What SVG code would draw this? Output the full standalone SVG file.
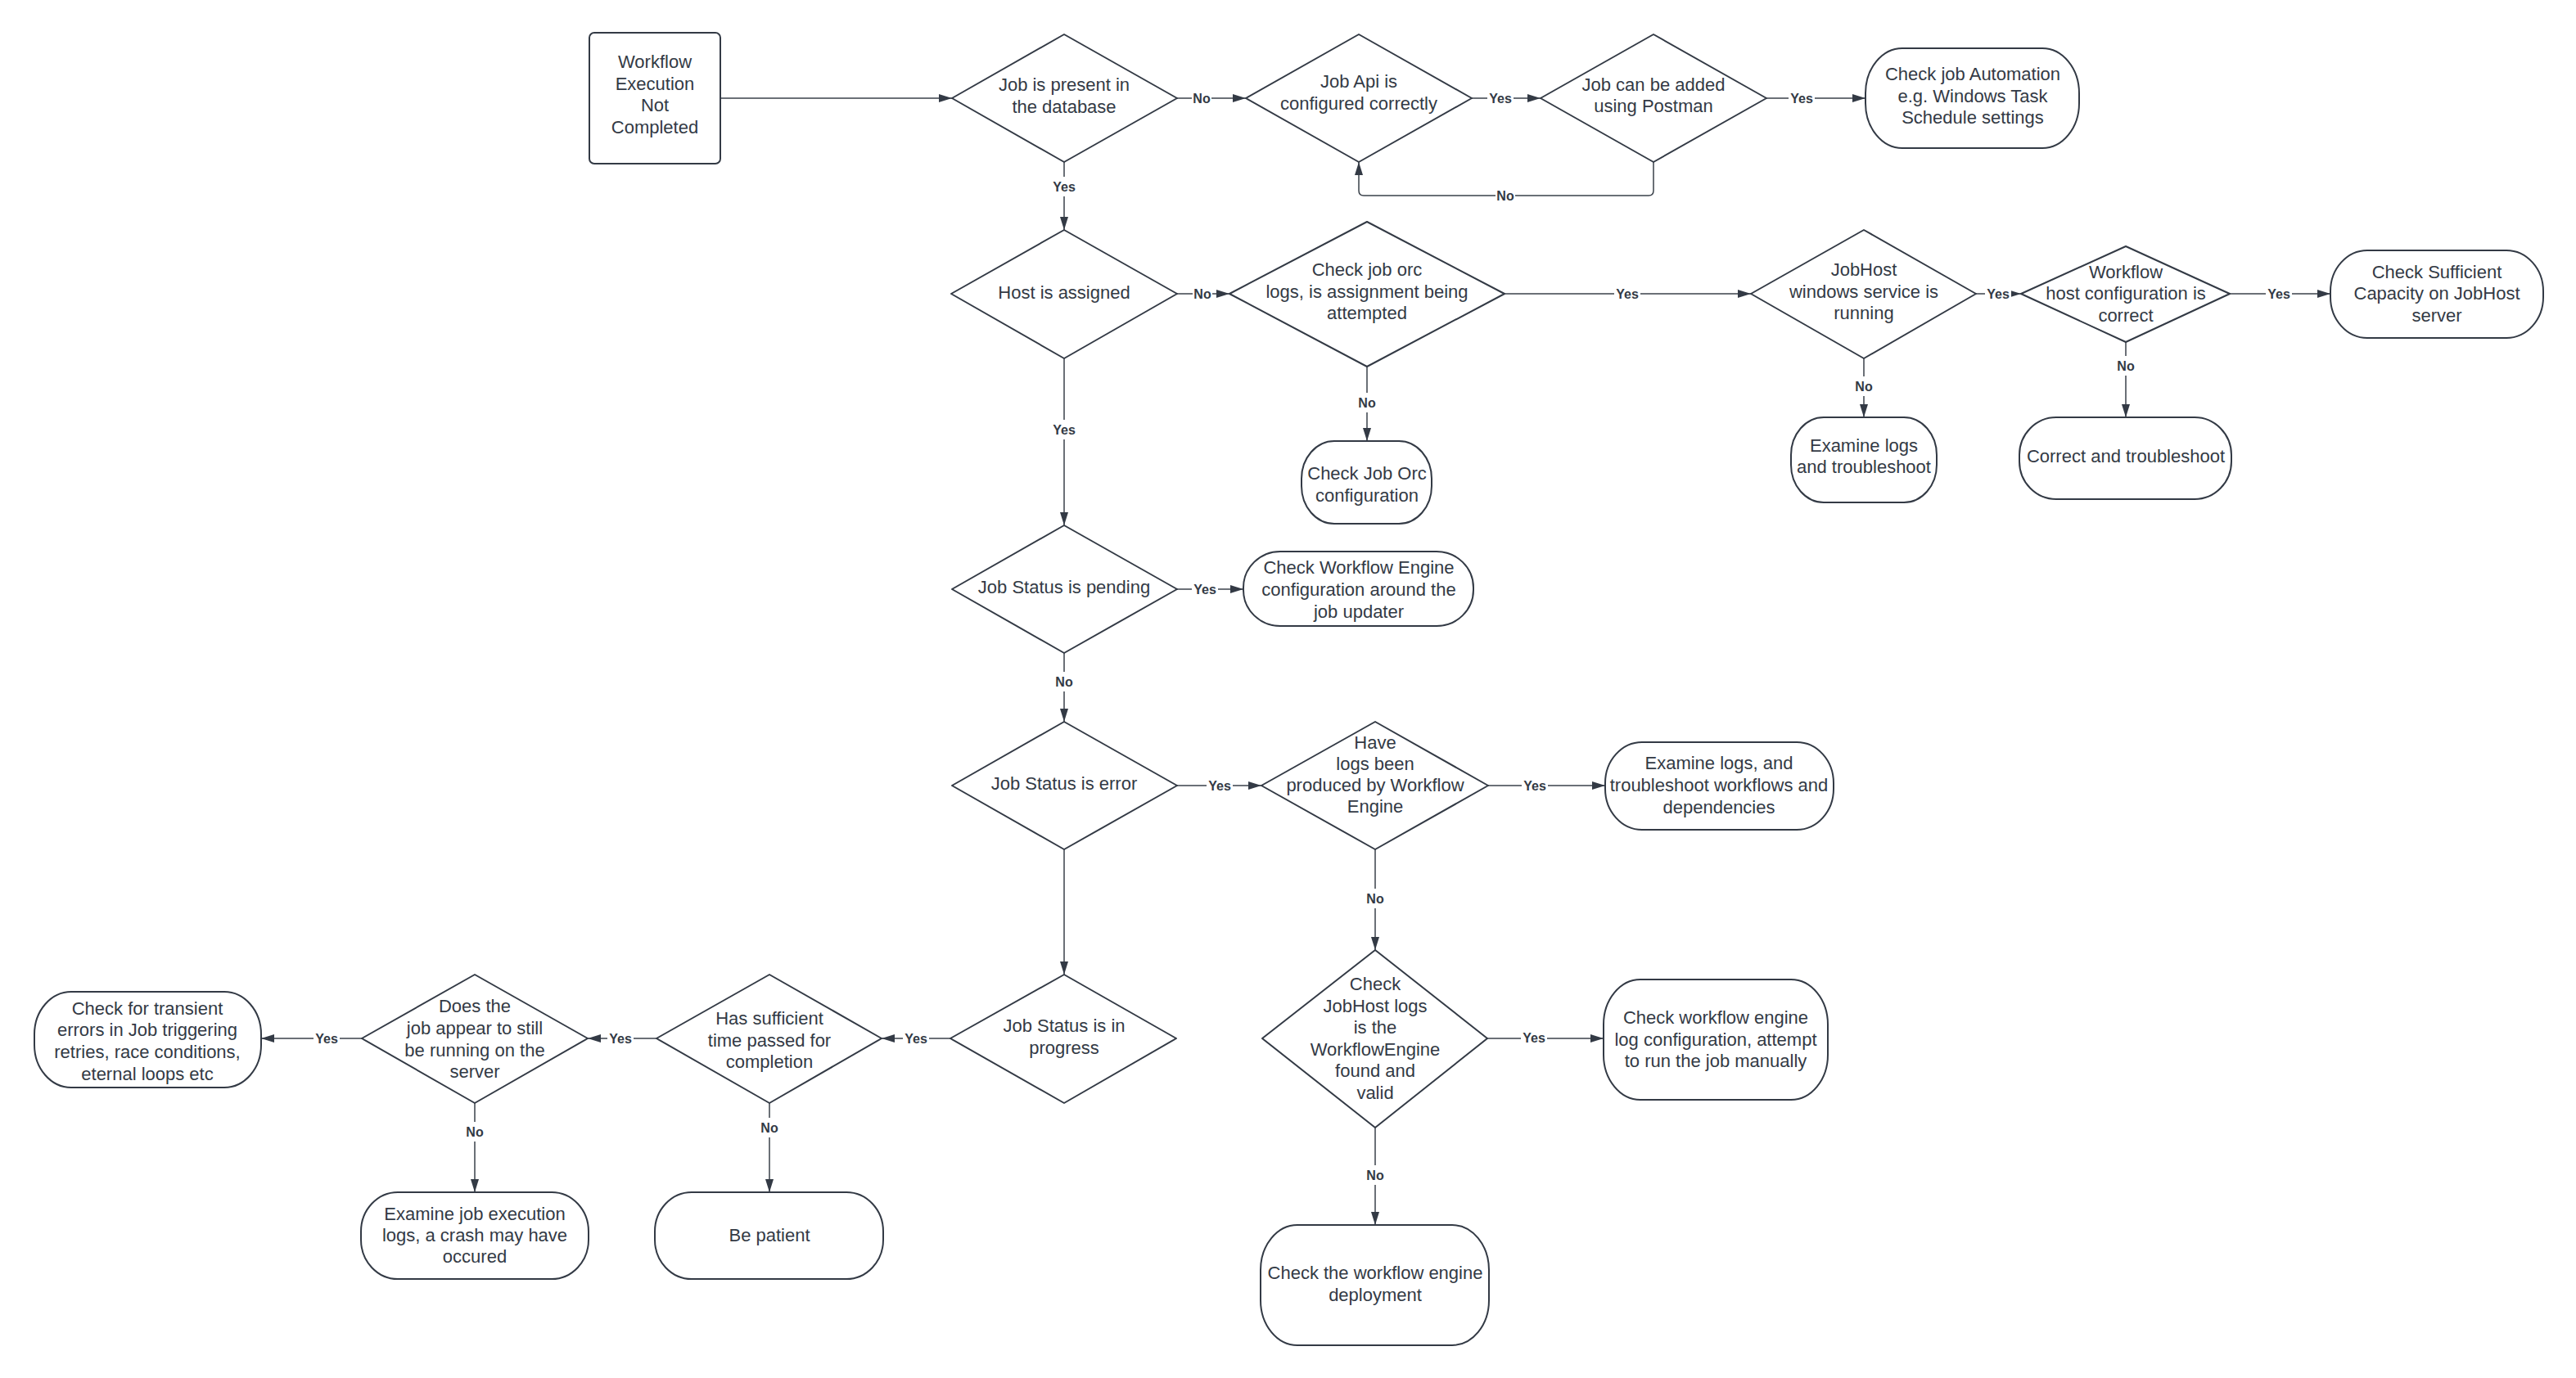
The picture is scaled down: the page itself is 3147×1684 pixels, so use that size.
<svg xmlns="http://www.w3.org/2000/svg" width="3147" height="1684" viewBox="0 0 3147 1684">
<style>
.shape{fill:#ffffff;stroke:#333a45;stroke-width:2;stroke-linejoin:round}
.conn{fill:none;stroke:#3a414a;stroke-width:1.5}
.t{font-family:"Liberation Sans",Arial,sans-serif;font-size:22px;fill:#333a45;text-anchor:middle}
.lbl{font-family:"Liberation Sans",Arial,sans-serif;font-size:16px;font-weight:bold;fill:#333a45;text-anchor:middle}
.bg{fill:#ffffff;stroke:none}
</style>
<defs>
<marker id="arr" markerUnits="userSpaceOnUse" markerWidth="16" markerHeight="10" refX="16" refY="5" orient="auto">
<path d="M0,0 L16,5 L0,10 z" fill="#333a45"/>
</marker>
</defs>
<rect width="3147" height="1684" fill="#ffffff"/>

<g id="connectors">
<path class="conn" d="M880,120 H1163" marker-end="url(#arr)"/>
<path class="conn" d="M1438,120 H1522" marker-end="url(#arr)"/>
<path class="conn" d="M1798,120 H1882" marker-end="url(#arr)"/>
<path class="conn" d="M2158,120 H2279" marker-end="url(#arr)"/>
<path class="conn" d="M2020,198 V233 Q2020,239 2014,239 H1666 Q1660,239 1660,233 V198" marker-end="url(#arr)"/>
<path class="conn" d="M1300,198 V281" marker-end="url(#arr)"/>
<path class="conn" d="M1438,359 H1502" marker-end="url(#arr)"/>
<path class="conn" d="M1838,359 H2139" marker-end="url(#arr)"/>
<path class="conn" d="M1670,448 V539" marker-end="url(#arr)"/>
<path class="conn" d="M2414,359 H2469" marker-end="url(#arr)"/>
<path class="conn" d="M2724,359 H2847" marker-end="url(#arr)"/>
<path class="conn" d="M2277,438 V510" marker-end="url(#arr)"/>
<path class="conn" d="M2597,418 V510" marker-end="url(#arr)"/>
<path class="conn" d="M1300,438 V642" marker-end="url(#arr)"/>
<path class="conn" d="M1438,720 H1519" marker-end="url(#arr)"/>
<path class="conn" d="M1300,798 V882" marker-end="url(#arr)"/>
<path class="conn" d="M1438,960 H1541" marker-end="url(#arr)"/>
<path class="conn" d="M1818,960 H1961" marker-end="url(#arr)"/>
<path class="conn" d="M1300,1038 V1191" marker-end="url(#arr)"/>
<path class="conn" d="M1680,1038 V1161" marker-end="url(#arr)"/>
<path class="conn" d="M1817,1269 H1959" marker-end="url(#arr)"/>
<path class="conn" d="M1680,1378 V1497" marker-end="url(#arr)"/>
<path class="conn" d="M1161,1269 H1077" marker-end="url(#arr)"/>
<path class="conn" d="M802,1269 H718" marker-end="url(#arr)"/>
<path class="conn" d="M442,1269 H319" marker-end="url(#arr)"/>
<path class="conn" d="M580,1348 V1457" marker-end="url(#arr)"/>
<path class="conn" d="M940,1348 V1457" marker-end="url(#arr)"/>

<rect class="bg" x="1456" y="110" width="24" height="20"/><text class="lbl" x="1468" y="126">No</text>
<rect class="bg" x="1817" y="110" width="32" height="20"/><text class="lbl" x="1833" y="126">Yes</text>
<rect class="bg" x="2185" y="110" width="32" height="20"/><text class="lbl" x="2201" y="126">Yes</text>
<rect class="bg" x="1827" y="229" width="24" height="20"/><text class="lbl" x="1839" y="245">No</text>
<rect class="bg" x="1284" y="216" width="32" height="24"/><text class="lbl" x="1300" y="234">Yes</text>
<rect class="bg" x="1457" y="349" width="24" height="20"/><text class="lbl" x="1469" y="365">No</text>
<rect class="bg" x="1972" y="349" width="32" height="20"/><text class="lbl" x="1988" y="365">Yes</text>
<rect class="bg" x="1658" y="480" width="24" height="24"/><text class="lbl" x="1670" y="498">No</text>
<rect class="bg" x="2425" y="349" width="32" height="20"/><text class="lbl" x="2441" y="365">Yes</text>
<rect class="bg" x="2768" y="349" width="32" height="20"/><text class="lbl" x="2784" y="365">Yes</text>
<rect class="bg" x="2265" y="460" width="24" height="24"/><text class="lbl" x="2277" y="478">No</text>
<rect class="bg" x="2585" y="435" width="24" height="24"/><text class="lbl" x="2597" y="453">No</text>
<rect class="bg" x="1284" y="513" width="32" height="24"/><text class="lbl" x="1300" y="531">Yes</text>
<rect class="bg" x="1456" y="710" width="32" height="20"/><text class="lbl" x="1472" y="726">Yes</text>
<rect class="bg" x="1288" y="821" width="24" height="24"/><text class="lbl" x="1300" y="839">No</text>
<rect class="bg" x="1474" y="950" width="32" height="20"/><text class="lbl" x="1490" y="966">Yes</text>
<rect class="bg" x="1859" y="950" width="32" height="20"/><text class="lbl" x="1875" y="966">Yes</text>
<rect class="bg" x="1668" y="1086" width="24" height="24"/><text class="lbl" x="1680" y="1104">No</text>
<rect class="bg" x="1858" y="1258" width="32" height="20"/><text class="lbl" x="1874" y="1274">Yes</text>
<rect class="bg" x="1668" y="1424" width="24" height="24"/><text class="lbl" x="1680" y="1442">No</text>
<rect class="bg" x="1103" y="1259" width="32" height="20"/><text class="lbl" x="1119" y="1275">Yes</text>
<rect class="bg" x="742" y="1259" width="32" height="20"/><text class="lbl" x="758" y="1275">Yes</text>
<rect class="bg" x="383" y="1259" width="32" height="20"/><text class="lbl" x="399" y="1275">Yes</text>
<rect class="bg" x="568" y="1371" width="24" height="24"/><text class="lbl" x="580" y="1389">No</text>
<rect class="bg" x="928" y="1366" width="24" height="24"/><text class="lbl" x="940" y="1384">No</text>
</g>

<g id="start">
<rect class="shape" x="720" y="40" width="160" height="160" rx="6"/>
<text class="t" x="800" y="83">Workflow</text>
<text class="t" x="800" y="110">Execution</text>
<text class="t" x="800" y="136">Not</text>
<text class="t" x="800" y="163">Completed</text>
</g>

<g id="d1">
<polygon class="shape" points="1300,42 1438,120 1300,198 1163,120"/>
<text class="t" x="1300" y="111">Job is present in</text>
<text class="t" x="1300" y="138">the database</text>
</g>

<g id="d2">
<polygon class="shape" points="1660,42 1798,120 1660,198 1522,120"/>
<text class="t" x="1660" y="107">Job Api is</text>
<text class="t" x="1660" y="134">configured correctly</text>
</g>

<g id="d3">
<polygon class="shape" points="2020,42 2158,120 2020,198 1882,120"/>
<text class="t" x="2020" y="111">Job can be added</text>
<text class="t" x="2020" y="137">using Postman</text>
</g>

<g id="r-automation">
<rect class="shape" x="2279" y="59" width="261" height="122" rx="45" ry="55"/>
<text class="t" x="2410" y="98">Check job Automation</text>
<text class="t" x="2410" y="125">e.g. Windows Task</text>
<text class="t" x="2410" y="151">Schedule settings</text>
</g>

<g id="d4">
<polygon class="shape" points="1300,281 1438,359 1300,438 1162,359"/>
<text class="t" x="1300" y="365">Host is assigned</text>
</g>

<g id="d5">
<polygon class="shape" points="1670,271 1838,359 1670,448 1502,359"/>
<text class="t" x="1670" y="337">Check job orc</text>
<text class="t" x="1670" y="364">logs, is assignment being</text>
<text class="t" x="1670" y="390">attempted</text>
</g>

<g id="r-orc">
<rect class="shape" x="1590" y="539" width="159" height="101" rx="40" ry="46"/>
<text class="t" x="1670" y="586">Check Job Orc</text>
<text class="t" x="1670" y="613">configuration</text>
</g>

<g id="d6">
<polygon class="shape" points="2277,281 2414,359 2277,438 2139,359"/>
<text class="t" x="2277" y="337">JobHost</text>
<text class="t" x="2277" y="364">windows service is</text>
<text class="t" x="2277" y="390">running</text>
</g>

<g id="d7">
<polygon class="shape" points="2597,301 2724,359 2597,418 2469,359"/>
<text class="t" x="2597" y="340">Workflow</text>
<text class="t" x="2597" y="366">host configuration is</text>
<text class="t" x="2597" y="393">correct</text>
</g>

<g id="r-capacity">
<rect class="shape" x="2847" y="306" width="260" height="107" rx="45" ry="50"/>
<text class="t" x="2977" y="340">Check Sufficient</text>
<text class="t" x="2977" y="366">Capacity on JobHost</text>
<text class="t" x="2977" y="393">server</text>
</g>

<g id="r-examine-logs">
<rect class="shape" x="2188" y="510" width="178" height="104" rx="40" ry="46"/>
<text class="t" x="2277" y="552">Examine logs</text>
<text class="t" x="2277" y="578">and troubleshoot</text>
</g>

<g id="r-correct">
<rect class="shape" x="2467" y="510" width="259" height="100" rx="45" ry="46"/>
<text class="t" x="2597" y="565">Correct and troubleshoot</text>
</g>

<g id="d8">
<polygon class="shape" points="1300,642 1438,720 1300,798 1163,720"/>
<text class="t" x="1300" y="725">Job Status is pending</text>
</g>

<g id="r-we-config">
<rect class="shape" x="1519" y="674" width="281" height="91" rx="45" ry="44"/>
<text class="t" x="1660" y="701">Check Workflow Engine</text>
<text class="t" x="1660" y="728">configuration around the</text>
<text class="t" x="1660" y="755">job updater</text>
</g>

<g id="d9">
<polygon class="shape" points="1300,882 1438,960 1300,1038 1163,960"/>
<text class="t" x="1300" y="965">Job Status is error</text>
</g>

<g id="d10">
<polygon class="shape" points="1680,882 1818,960 1680,1038 1541,960"/>
<text class="t" x="1680" y="915">Have</text>
<text class="t" x="1680" y="941">logs been</text>
<text class="t" x="1680" y="967">produced by Workflow</text>
<text class="t" x="1680" y="993">Engine</text>
</g>

<g id="r-examine-workflows">
<rect class="shape" x="1961" y="907" width="279" height="107" rx="45" ry="50"/>
<text class="t" x="2100" y="940">Examine logs, and</text>
<text class="t" x="2100" y="967">troubleshoot workflows and</text>
<text class="t" x="2100" y="994">dependencies</text>
</g>

<g id="d11">
<polygon class="shape" points="1300,1191 1437,1269 1300,1348 1161,1269"/>
<text class="t" x="1300" y="1261">Job Status is in</text>
<text class="t" x="1300" y="1288">progress</text>
</g>

<g id="d12">
<polygon class="shape" points="1680,1161 1817,1269 1680,1378 1542,1269"/>
<text class="t" x="1680" y="1210">Check</text>
<text class="t" x="1680" y="1237">JobHost logs</text>
<text class="t" x="1680" y="1263">is the</text>
<text class="t" x="1680" y="1290">WorkflowEngine</text>
<text class="t" x="1680" y="1316">found and</text>
<text class="t" x="1680" y="1343">valid</text>
</g>

<g id="r-log-config">
<rect class="shape" x="1959" y="1197" width="274" height="147" rx="45" ry="55"/>
<text class="t" x="2096" y="1251">Check workflow engine</text>
<text class="t" x="2096" y="1278">log configuration, attempt</text>
<text class="t" x="2096" y="1304">to run the job manually</text>
</g>

<g id="r-deployment">
<rect class="shape" x="1540" y="1497" width="279" height="147" rx="45" ry="55"/>
<text class="t" x="1680" y="1563">Check the workflow engine</text>
<text class="t" x="1680" y="1590">deployment</text>
</g>

<g id="d13">
<polygon class="shape" points="940,1191 1077,1269 940,1348 802,1269"/>
<text class="t" x="940" y="1252">Has sufficient</text>
<text class="t" x="940" y="1279">time passed for</text>
<text class="t" x="940" y="1305">completion</text>
</g>

<g id="d14">
<polygon class="shape" points="580,1191 718,1269 580,1348 442,1269"/>
<text class="t" x="580" y="1237">Does the</text>
<text class="t" x="580" y="1264">job appear to still</text>
<text class="t" x="580" y="1291">be running on the</text>
<text class="t" x="580" y="1317">server</text>
</g>

<g id="r-transient">
<rect class="shape" x="42" y="1212" width="277" height="117" rx="45" ry="52"/>
<text class="t" x="180" y="1240">Check for transient</text>
<text class="t" x="180" y="1266">errors in Job triggering</text>
<text class="t" x="180" y="1293">retries, race conditions,</text>
<text class="t" x="180" y="1320">eternal loops etc</text>
</g>

<g id="r-exec-logs">
<rect class="shape" x="441" y="1457" width="278" height="106" rx="45" ry="48"/>
<text class="t" x="580" y="1491">Examine job execution</text>
<text class="t" x="580" y="1517">logs, a crash may have</text>
<text class="t" x="580" y="1543">occured</text>
</g>

<g id="r-patient">
<rect class="shape" x="800" y="1457" width="279" height="106" rx="45" ry="48"/>
<text class="t" x="940" y="1517">Be patient</text>
</g>
</svg>
